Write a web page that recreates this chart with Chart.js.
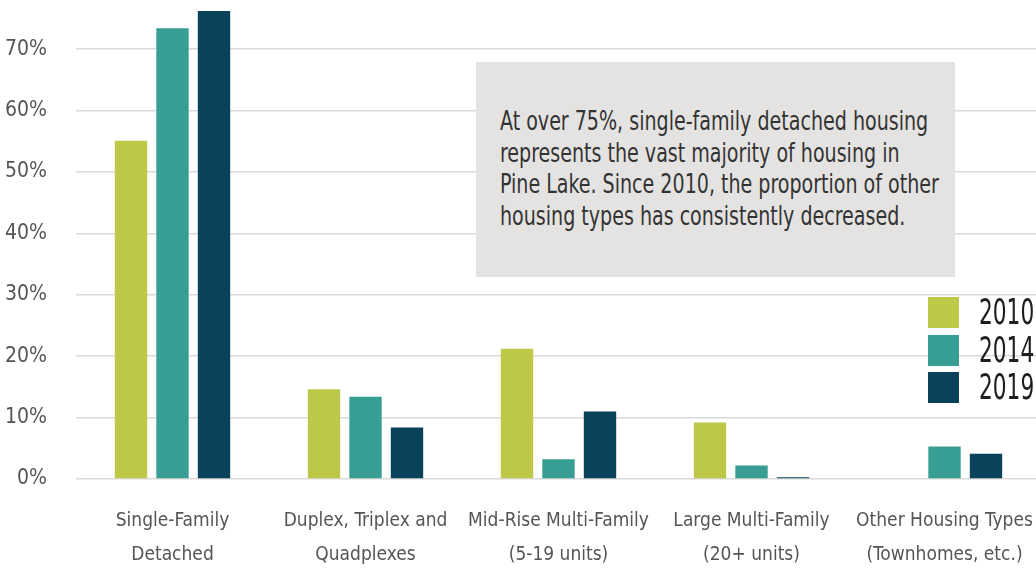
<!DOCTYPE html>
<html>
<head>
<meta charset="utf-8">
<script src="https://cdn.jsdelivr.net/npm/chart.js@4/dist/chart.umd.min.js"></script>
<style>
  html, body { margin: 0; padding: 0; background: #fff; }
  #wrap { position: relative; width: 1036px; height: 570px; overflow: hidden; }
  #nota {
    position: absolute; left: 476px; top: 62px; width: 479px; height: 215px;
    background: #e4e3e1;
  }
  #nota div {
    position: absolute; left: 24px; top: 44px; white-space: nowrap;
    transform: scaleX(0.815); transform-origin: 0 0;
    font-family: "DejaVu Sans Condensed", "Liberation Sans Narrow", sans-serif;
    font-size: 26px; line-height: 31.5px; color: #333;
  }
  #legenda { position: absolute; left: 928px; top: 297px; }
  .item { position: relative; height: 37.5px; }
  .caixa { position: absolute; left: 0; top: 0; width: 31px; height: 31px; }
  .item span {
    position: absolute; left: 51px; top: -7px; white-space: nowrap;
    transform: scaleX(0.67); transform-origin: 0 0;
    font-family: "DejaVu Sans Condensed", "Liberation Sans Narrow", sans-serif;
    font-size: 36px; line-height: 44px; color: #1e1e1e;
  }
</style>
</head>
<body>
<div id="wrap">
  <canvas id="grafico" width="1041" height="570"></canvas>
  <div id="nota"><div>At over 75%, single-family detached housing<br>represents the vast majority of housing in<br>Pine Lake. Since 2010, the proportion of other<br>housing types has consistently decreased.</div></div>
  <div id="legenda"></div>
</div>
<script>
// Categorias e valores (% das moradias)
const categorias = [
  ['Single-Family', 'Detached'],
  ['Duplex, Triplex and', 'Quadplexes'],
  ['Mid-Rise Multi-Family', '(5-19 units)'],
  ['Large Multi-Family', '(20+ units)'],
  ['Other Housing Types', '(Townhomes, etc.)']
];
const anos = ['2010', '2014', '2019'];
const valores2010 = [55.1, 14.6, 21.2, 9.2, 0];
const valores2014 = [73.4, 13.4, 3.2, 2.2, 5.3];
const valores2019 = [76.2, 8.4, 11.0, 0.3, 4.1];
const cores = ['#bdc748', '#389e93', '#0a425b'];

const fonte = '"DejaVu Sans Condensed", "Liberation Sans Narrow", sans-serif';

// Legenda em HTML
const legenda = document.getElementById('legenda');
anos.forEach((ano, i) => {
  const item = document.createElement('div');
  item.className = 'item';
  item.innerHTML = `<div class="caixa" style="background:${cores[i]}"></div><span>${ano}</span>`;
  legenda.appendChild(item);
});

const ctx = document.getElementById('grafico').getContext('2d');
new Chart(ctx, {
  type: 'bar',
  data: {
    labels: categorias,
    datasets: [
      { label: anos[0], data: valores2010, backgroundColor: cores[0] },
      { label: anos[1], data: valores2014, backgroundColor: cores[1] },
      { label: anos[2], data: valores2019, backgroundColor: cores[2] }
    ]
  },
  options: {
    responsive: false,
    animation: false,
    layout: { padding: 0 },
    datasets: {
      bar: { categoryPercentage: 0.645, barPercentage: 0.78 }
    },
    plugins: {
      legend: { display: false },
      tooltip: { enabled: false }
    },
    scales: {
      x: {
        grid: { display: false },
        border: { display: false },
        ticks: {
          color: '#555',
          font: { family: fonte, size: 19, lineHeight: 1.8 },
          padding: 17,
          maxRotation: 0,
          autoSkip: false
        },
        afterFit: scale => {
          scale.height = 91;
          scale.paddingLeft = 0;
          scale.paddingRight = 0;
        }
      },
      y: {
        min: 0,
        max: 78,
        border: { display: false },
        grid: { color: '#d9d9d9', lineWidth: 1.5, drawTicks: false },
        ticks: {
          stepSize: 10,
          color: '#555',
          font: { family: fonte, size: 21 },
          padding: 29,
          callback: v => v + '%'
        },
        afterBuildTicks: scale => {
          scale.ticks = scale.ticks.filter(t => t.value % 10 === 0);
        },
        afterFit: scale => {
          scale.width = 76;
          scale.paddingTop = 0;
          scale.paddingBottom = 0;
        }
      }
    }
  }
});
</script>
</body>
</html>
